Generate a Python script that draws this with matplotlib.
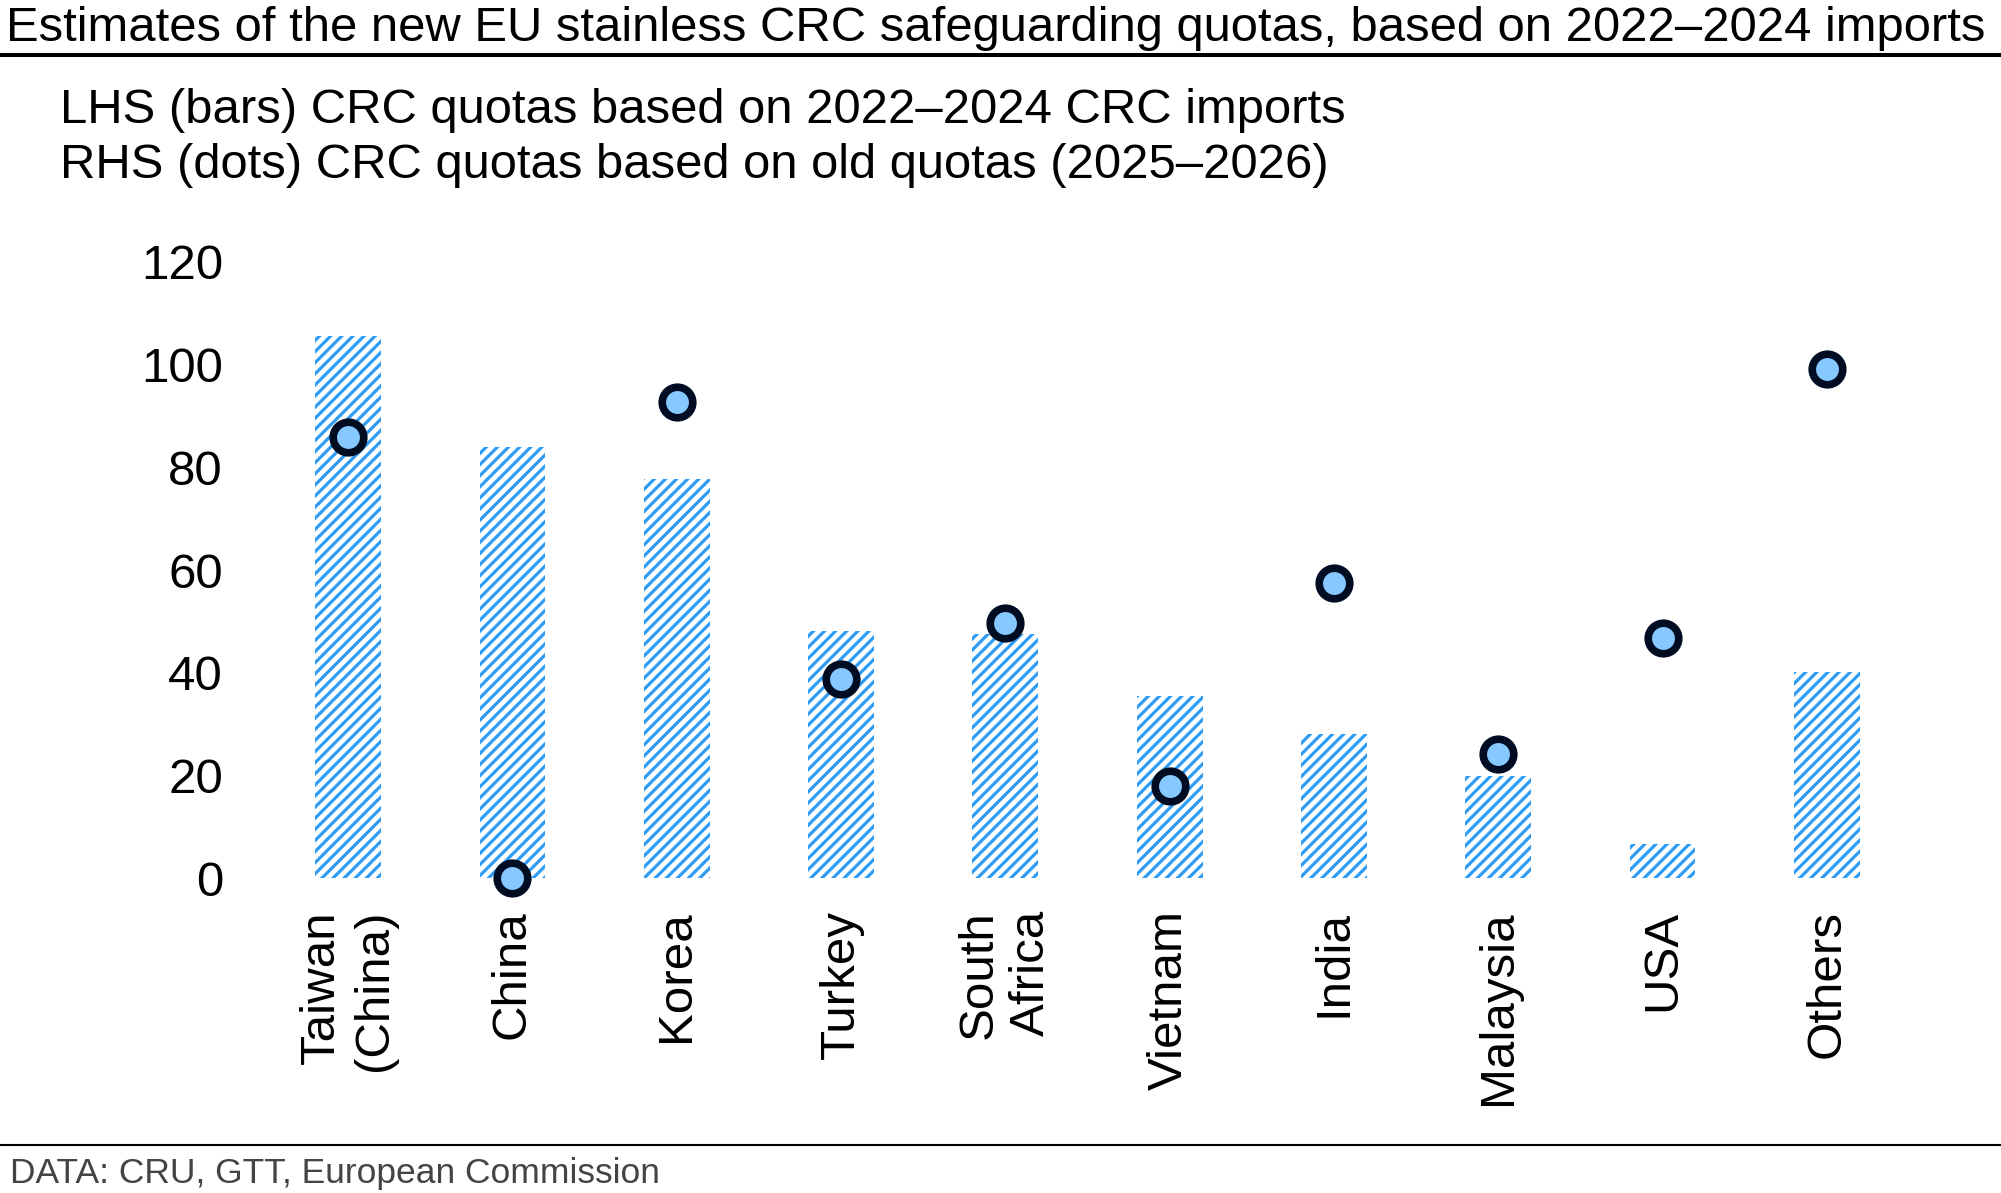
import matplotlib
matplotlib.use("Agg")
import matplotlib.pyplot as plt
from matplotlib.lines import Line2D

plt.rcParams['font.family'] = ['Liberation Sans', 'DejaVu Sans']
plt.rcParams['hatch.linewidth'] = 2.3

categories = ["Taiwan\n(China)", "China", "Korea", "Turkey", "South\nAfrica",
              "Vietnam", "India", "Malaysia", "USA", "Others"]
bars_2022_2024 = [105.6, 84.0, 77.8, 48.2, 47.5, 35.5, 28.0, 19.9, 6.7, 40.2]
dots_old_quotas = [86.0, 0.0, 92.7, 38.8, 49.7, 17.9, 57.4, 24.1, 46.7, 99.1]
yticks = [0, 20, 40, 60, 80, 100, 120]

title = "Estimates of the new EU stainless CRC safeguarding quotas, based on 2022\u20132024 imports"
sub1 = "LHS (bars) CRC quotas based on 2022\u20132024 CRC imports"
sub2 = "RHS (dots) CRC quotas based on old quotas (2025\u20132026)"
source = "DATA: CRU, GTT, European Commission"

W, H = 2001, 1193
fig = plt.figure(figsize=(W / 100, H / 100), dpi=100)

ax_l, ax_r = 266 / W, 1909 / W
ax_b, ax_t = (H - 878) / H, (H - 262) / H
ax = fig.add_axes([ax_l, ax_b, ax_r - ax_l, ax_t - ax_b])

x = list(range(len(categories)))
ax.bar(x, bars_2022_2024, width=0.4, color='white', edgecolor='#2E9CF4',
       hatch='///', linewidth=0, zorder=2)
ax.scatter(x, dots_old_quotas, s=22 ** 2, facecolor='#86C8FF', edgecolor='#000C22',
           linewidth=5.5, zorder=3, clip_on=False)

ax.set_xlim(-0.5, 9.5)
ax.set_ylim(0, 120)
ax.set_yticks(yticks)
ax.set_yticklabels([str(v) for v in yticks], fontsize=35.5)
ax.set_xticks(x)
ax.set_xticklabels(categories, fontsize=35.5, rotation=90, va='top', ha='center',
                   multialignment='right', linespacing=1.22)
for s in ax.spines.values():
    s.set_visible(False)
ax.tick_params(axis='both', length=0)
ax.tick_params(axis='y', pad=31)
ax.tick_params(axis='x', pad=23)

fig.text(6 / W, 1 - 41 / H, title, fontsize=35.3, ha='left', va='baseline')
fig.add_artist(Line2D([0, 1], [1 - 55 / H] * 2, color='black', lw=2.9,
                      transform=fig.transFigure))
fig.text(60 / W, 1 - 123 / H, sub1, fontsize=35.3, ha='left', va='baseline')
fig.text(60 / W, 1 - 178 / H, sub2, fontsize=35.3, ha='left', va='baseline')
fig.add_artist(Line2D([0, 1], [1 - 1145 / H] * 2, color='black', lw=1.5,
                      transform=fig.transFigure))
fig.text(10 / W, 1 - 1183 / H, source, fontsize=25.5, ha='left', va='baseline', color='#444444')

fig.savefig("out.png", dpi=100)
